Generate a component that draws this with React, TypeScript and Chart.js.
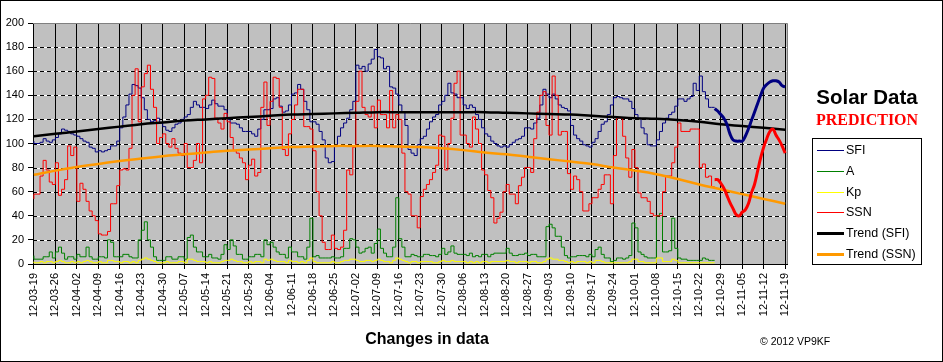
import { useEffect, useRef } from "react";
import { Chart, registerables } from "chart.js";

Chart.register(...registerables);

const TICK_LABELS = [
  "12-03-19", "12-03-26", "12-04-02", "12-04-09", "12-04-16", "12-04-23", "12-04-30",
  "12-05-07", "12-05-14", "12-05-21", "12-05-28", "12-06-04", "12-06-11", "12-06-18",
  "12-06-25", "12-07-02", "12-07-09", "12-07-16", "12-07-23", "12-07-30", "12-08-06",
  "12-08-13", "12-08-20", "12-08-27", "12-09-03", "12-09-10", "12-09-17", "12-09-24",
  "12-10-01", "12-10-08", "12-10-15", "12-10-22", "12-10-29", "12-11-05", "12-11-12",
  "12-11-19",
];

// daily observed values, day 0 = 2012-03-19
const SFI = [
  102, 100, 100, 101, 104, 102, 101,
  103, 105, 108, 112, 111, 110, 108,
  107, 106, 104, 102, 101, 97, 96,
  93, 94, 93, 94, 95, 98, 98,
  102, 113, 122, 132, 141, 149, 148,
  146, 138, 128, 120, 118, 119, 121,
  117, 114, 111, 110, 113, 116, 117,
  120, 122, 124, 130, 135, 132, 130,
  130, 129, 132, 136, 133, 131, 131,
  128, 120, 117, 117, 116, 113, 110,
  110, 110, 108, 106, 112, 120, 128,
  128, 129, 137, 138, 131, 126, 127,
  132, 141, 142, 149, 145, 135, 128,
  118, 118, 116, 110, 103, 88, 84,
  85, 98, 106, 113, 117, 121, 128,
  135, 165, 162, 164, 160, 166, 170,
  178, 172, 171, 162, 164, 147, 146,
  141, 132, 126, 115, 95, 92, 90,
  99, 104, 106, 112, 118, 122, 124,
  132, 135, 140, 150, 142, 141, 138,
  138, 132, 129, 132, 130, 124, 120,
  113, 108, 106, 102, 100, 98, 97,
  98, 97, 99, 101, 103, 104, 106,
  113, 113, 112, 117, 121, 132, 145,
  141, 138, 141, 137, 132, 130, 129,
  127, 115, 107, 104, 102, 99, 98,
  97, 101, 104, 110, 116, 118, 124,
  132, 138, 139, 138, 137, 137, 135,
  129, 124, 121, 113, 108, 99, 98,
  98, 103, 110, 117, 121, 124, 126,
  131, 137, 137, 135, 137, 139, 150,
  144, 156, 143, 137, 130, 130,
];

const SSN = [
  54, 58, 58, 73, 86, 78, 68,
  66, 84, 57, 62, 70, 98, 90,
  97, 52, 67, 62, 52, 44, 40,
  36, 25, 24, 24, 27, 50, 50,
  65, 78, 79, 78, 96, 140, 162,
  118, 147, 158, 165, 145, 130, 100,
  105, 108, 100, 97, 104, 96, 92,
  90, 100, 80, 80, 86, 100, 84,
  137, 140, 155, 154, 121, 117, 112,
  125, 118, 105, 94, 92, 88, 84,
  70, 82, 87, 73, 76, 130, 151,
  115, 135, 155, 154, 130, 95, 90,
  108, 120, 132, 145, 145, 114, 114,
  112, 94, 60, 40, 18, 12, 12,
  24, 13, 12, 14, 28, 78, 74,
  97, 135, 160, 130, 124, 122, 131,
  113, 136, 124, 124, 113, 144, 113,
  124, 120, 92, 60, 58, 40, 40,
  30, 56, 62, 66, 70, 76, 82,
  107, 106, 78, 100, 121, 150, 160,
  107, 107, 100, 97, 122, 112, 100,
  78, 74, 61, 55, 34, 38, 43,
  60, 66, 58, 58, 50, 65, 72,
  80, 80, 76, 104, 126, 140, 143,
  115, 107, 156, 140, 107, 110, 110,
  75, 62, 73, 70, 60, 44, 44,
  50, 55, 55, 62, 66, 74, 74,
  50, 90, 121, 121, 106, 88, 72,
  95, 80, 59, 55, 55, 52, 42,
  40, 40, 40, 60, 73, 73, 84,
  97, 117, 110, 110, 110, 112, 112,
  112, 80, 83, 72, 73, 64,
];

const A_INDEX = [
  7, 4, 4, 4, 6, 6, 10,
  5, 10, 14, 9, 4, 6, 6,
  4, 8, 6, 6, 14, 6, 4,
  4, 6, 6, 5, 20, 18, 6,
  6, 6, 8, 8, 6, 5, 5,
  20, 28, 35, 20, 14, 6, 3,
  3, 3, 6, 6, 4, 4, 6,
  6, 4, 22, 24, 14, 10, 10,
  6, 6, 8, 5, 5, 4, 8,
  16, 12, 20, 15, 8, 8, 4,
  4, 6, 6, 8, 8, 6, 20,
  16, 18, 14, 10, 8, 8, 5,
  14, 10, 10, 6, 6, 4, 14,
  38, 6, 7, 5, 5, 5, 5,
  6, 5, 5, 6, 13, 13, 21,
  20, 14, 9, 10, 13, 14, 9,
  17, 29, 13, 9, 6, 6, 14,
  55, 21, 14, 6, 6, 8, 7,
  6, 6, 8, 8, 7, 7, 6,
  8, 13, 8, 10, 15, 9, 8,
  8, 8, 7, 9, 6, 7, 6,
  8, 8, 6, 8, 9, 9, 9,
  9, 13, 9, 7, 7, 8, 8,
  9, 7, 8, 8, 6, 6, 6,
  31, 33, 30, 23, 23, 14, 7,
  5, 6, 6, 7, 7, 7, 6,
  8, 6, 12, 14, 8, 5, 5,
  2, 3, 5, 5, 4, 5, 7,
  34, 30, 10, 8, 6, 5, 5,
  5, 40, 42, 10, 10, 11, 38,
  13, 5, 4, 4, 3, 3, 3,
  3, 3, 5, 4, 3, 3,
];

const KP = [
  2, 1, 1, 2, 1, 2, 2,
  1, 2, 3, 2, 1, 1, 2,
  1, 2, 1, 2, 3, 2, 1,
  1, 2, 1, 1, 3, 3, 2,
  2, 1, 2, 2, 1, 2, 1,
  3, 4, 5, 4, 3, 2, 1,
  1, 1, 2, 1, 1, 1, 2,
  2, 1, 4, 4, 3, 2, 2,
  2, 1, 2, 1, 1, 1, 2,
  3, 3, 4, 3, 2, 2, 1,
  1, 2, 1, 2, 2, 1, 4,
  3, 4, 3, 2, 2, 2, 1,
  3, 2, 2, 1, 2, 1, 3,
  5, 2, 1, 1, 1, 1, 1,
  2, 1, 1, 2, 3, 3, 4,
  4, 3, 2, 2, 3, 3, 2,
  3, 4, 3, 2, 2, 1, 3,
  5, 4, 3, 2, 1, 2, 2,
  1, 2, 2, 2, 2, 1, 1,
  2, 3, 2, 2, 3, 2, 2,
  2, 2, 1, 2, 1, 2, 1,
  2, 2, 1, 2, 2, 2, 2,
  2, 3, 2, 2, 1, 2, 2,
  2, 1, 2, 2, 1, 1, 2,
  4, 5, 4, 4, 3, 3, 2,
  1, 2, 1, 2, 2, 2, 1,
  2, 1, 3, 3, 2, 1, 1,
  1, 1, 1, 1, 1, 1, 2,
  4, 4, 2, 2, 1, 1, 1,
  1, 5, 5, 2, 2, 2, 4,
  3, 1, 1, 1, 1, 1, 1,
  1, 1, 1, 1, 1, 1,
];

// prediction (daily from day 222)
const PRED_START = 222;
const SFI_PRED = [129, 127, 124, 121, 116, 108, 103, 102, 102, 102, 106, 112, 119, 126, 133, 140, 146, 149, 151, 152, 152, 151, 148, 147];
const SSN_PRED = [70, 70, 67, 63, 57, 51, 46, 41, 40, 43, 45, 50, 59, 66, 77, 88, 97, 104, 110, 112, 107, 103, 98, 92];

// trend values read at each weekly tick
const TREND_SFI = [106, 108, 110, 112, 114, 116, 117.5, 119, 120, 121, 122, 123, 124, 124.5, 125, 125.5, 126, 126, 126, 126, 126, 126, 125.5, 125, 124.5, 124, 123, 122, 121, 120.5, 119.5, 118, 116, 114.5, 113, 111.5];
const TREND_SSN = [74, 77.5, 80.5, 83, 85.5, 87.5, 89.5, 91, 92.5, 94, 95, 96, 97, 97.5, 98, 98, 98, 97.5, 97, 96, 94.5, 92.5, 91, 89, 87, 85, 83, 80, 77.5, 74.5, 70.5, 66, 62, 58, 54, 50];

const LEGEND_LABELS = ["SFI", "A", "Kp", "SSN", "Trend (SFI)", "Trend (SSN)"];

const FONT = "'Liberation Sans', Arial, sans-serif";

const pts = (arr: number[], start = 0, step = 1) => arr.map((v, i) => ({ x: start + i * step, y: v }));

const deco = {
  id: "deco",
  beforeDraw(chart: any) {
    const { ctx, chartArea: ca } = chart;
    ctx.save();
    ctx.fillStyle = "#ffffff";
    ctx.fillRect(0, 0, chart.width, chart.height);
    ctx.fillStyle = "#C0C0C0";
    ctx.fillRect(ca.left, ca.top, ca.right - ca.left, ca.bottom - ca.top);
    ctx.restore();
  },
  beforeDatasetsDraw(chart: any) {
    const { ctx, chartArea: ca } = chart;
    const y = chart.scales.y;
    ctx.save();
    y.ticks.forEach((t: any) => {
      if (t.value <= 0 || t.value >= 200) return;
      const py = Math.round(y.getPixelForValue(t.value)) + 0.5;
      ctx.lineWidth = 1;
      ctx.setLineDash([]);
      ctx.strokeStyle = "#ffffff";
      ctx.beginPath();
      ctx.moveTo(ca.left, py);
      ctx.lineTo(ca.right, py);
      ctx.stroke();
      ctx.setLineDash([4, 3]);
      ctx.strokeStyle = "#000000";
      ctx.beginPath();
      ctx.moveTo(ca.left, py);
      ctx.lineTo(ca.right, py);
      ctx.stroke();
    });
    ctx.setLineDash([]);
    ctx.strokeStyle = "#808080";
    ctx.lineWidth = 1;
    ctx.beginPath();
    ctx.moveTo(ca.left, Math.round(ca.top) + 0.5);
    ctx.lineTo(Math.round(ca.right) + 0.5, Math.round(ca.top) + 0.5);
    ctx.lineTo(Math.round(ca.right) + 0.5, ca.bottom);
    ctx.stroke();
    ctx.restore();
  },
  afterDraw(chart: any) {
    const { ctx } = chart;
    ctx.save();
    ctx.textAlign = "center";
    ctx.textBaseline = "middle";
    ctx.fillStyle = "#000";
    ctx.font = `bold 20.5px ${FONT}`;
    ctx.fillText("Solar Data", 867, 98);
    ctx.fillStyle = "#FF0000";
    ctx.font = "bold 16px 'Liberation Serif', 'Times New Roman', serif";
    ctx.fillText("PREDICTION", 867, 121);
    ctx.fillStyle = "#000";
    ctx.font = `bold 16px ${FONT}`;
    ctx.fillText("Changes in data", 427, 340);
    ctx.textAlign = "left";
    ctx.font = `10.5px ${FONT}`;
    ctx.fillText("\u00A9 2012 VP9KF", 760, 342);

    ctx.strokeStyle = "#000";
    ctx.lineWidth = 1;
    ctx.strokeRect(812.5, 138.5, 109, 126);
    ctx.font = `12.5px ${FONT}`;
    LEGEND_LABELS.forEach((lab, i) => {
      const ds = chart.data.datasets.find((d: any) => d.label === lab);
      if (!ds) return;
      const yy = Math.round(150 + i * 20.8) + 0.5;
      ctx.strokeStyle = ds.borderColor;
      ctx.lineWidth = ds.borderWidth >= 2 ? 3 : 1;
      ctx.beginPath();
      ctx.moveTo(817, yy);
      ctx.lineTo(844, yy);
      ctx.stroke();
      ctx.fillStyle = "#000";
      ctx.fillText(lab, 846, yy + 0.5);
    });

    ctx.strokeStyle = "#000";
    ctx.lineWidth = 1;
    ctx.strokeRect(0.5, 0.5, chart.width - 1, chart.height - 1);
    ctx.restore();
  },
};

export default function App() {
  const ref = useRef<HTMLCanvasElement | null>(null);

  useEffect(() => {
    document.body.style.margin = "0";
    if (!ref.current) return;
    const thin = { pointRadius: 0, borderWidth: 1, fill: false, stepped: "after" as const };
    const chart = new Chart(ref.current, {
      type: "line",
      data: {
        datasets: [
          { label: "SFI pred", data: pts(SFI_PRED, PRED_START), borderColor: "#000080", borderWidth: 3, pointRadius: 0, tension: 0.4, order: 0 },
          { label: "SSN pred", data: pts(SSN_PRED, PRED_START), borderColor: "#FF0000", borderWidth: 3, pointRadius: 0, tension: 0.4, order: 0 },
          { label: "Trend (SFI)", data: pts(TREND_SFI, 0, 7), borderColor: "#000000", borderWidth: 2.5, pointRadius: 0, tension: 0.4, order: 1 },
          { label: "Trend (SSN)", data: pts(TREND_SSN, 0, 7), borderColor: "#FF9900", borderWidth: 2.5, pointRadius: 0, tension: 0.4, order: 2 },
          { label: "SSN", data: pts(SSN), borderColor: "#FF0000", ...thin, order: 3 },
          { label: "SFI", data: pts(SFI), borderColor: "#000080", ...thin, order: 4 },
          { label: "Kp", data: pts(KP), borderColor: "#FFFF00", ...thin, order: 5 },
          { label: "A", data: pts(A_INDEX), borderColor: "#008000", ...thin, order: 6 },
        ] as any,
      },
      options: {
        animation: false,
        responsive: false,
        events: [],
        layout: { padding: { top: 23, right: 156, left: 0, bottom: 0 } },
        plugins: { legend: { display: false }, tooltip: { enabled: false } },
        scales: {
          x: {
            type: "linear",
            min: -0.3,
            max: 245.6,
            afterFit: (s: any) => { s.height = 98; },
            ticks: {
              stepSize: 7,
              autoSkip: false,
              includeBounds: false,
              minRotation: 90,
              maxRotation: 90,
              padding: 4,
              color: "#000",
              font: { family: FONT, size: 11 },
              callback: (v: any) => {
                const i = Math.round(v / 7);
                return Math.abs(v - i * 7) < 1e-6 && TICK_LABELS[i] ? TICK_LABELS[i] : "";
              },
            },
            grid: { color: "#000", lineWidth: 1, tickLength: 5, drawTicks: true },
            border: { color: "#000" },
          },
          y: {
            min: 0,
            max: 200,
            afterFit: (s: any) => { s.width = 33; },
            ticks: { stepSize: 20, padding: 4, color: "#000", font: { family: FONT, size: 11 } },
            grid: { drawOnChartArea: false, tickLength: 5, color: "#000" },
            border: { color: "#000" },
          },
        },
      },
      plugins: [deco],
    } as any);
    return () => chart.destroy();
  }, []);

  return (
    <div style={{ width: 943, height: 362 }}>
      <canvas ref={ref} width={943} height={362} style={{ display: "block" }} />
    </div>
  );
}
